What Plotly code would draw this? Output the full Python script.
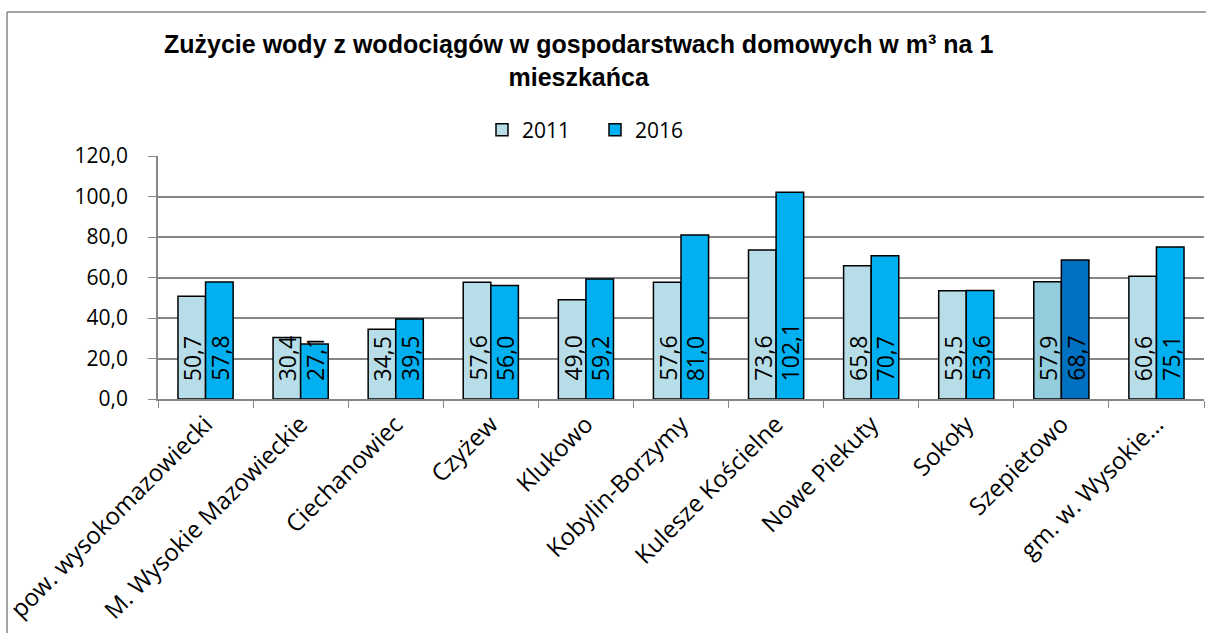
import plotly.graph_objects as go

categories = [
    "pow. wysokomazowiecki", "M. Wysokie Mazowieckie", "Ciechanowiec", "Czyżew",
    "Klukowo", "Kobylin-Borzymy", "Kulesze Kościelne", "Nowe Piekuty",
    "Sokoły", "Szepietowo", "gm. w. Wysokie…",
]
values_2011 = [50.7, 30.4, 34.5, 57.6, 49.0, 57.6, 73.6, 65.8, 53.5, 57.9, 60.6]
values_2016 = [57.8, 27.1, 39.5, 56.0, 59.2, 81.0, 102.1, 70.7, 53.6, 68.7, 75.1]
y_ticks = [0, 20, 40, 60, 80, 100, 120]

# per-bar colours; Szepietowo is highlighted with darker shades
light, light_hl = "#B7DEE8", "#93CDDD"
blue, blue_hl = "#00B0F0", "#0070C0"
colors_2011 = [light_hl if c == "Szepietowo" else light for c in categories]
colors_2016 = [blue_hl if c == "Szepietowo" else blue for c in categories]

FONT = "Open Sans"
BARGAP = 0.42

L, R, T, B = 158, 2, 156, 234
W, H = 1206, 633
pw, ph = W - L - R, H - T - B

def px(x):
    return (x - L) / pw

def py(y):
    return (H - B - y) / ph

def fmt(v):
    return f"{v:.1f}".replace(".", ",")

fig = go.Figure()
series = [("2011", values_2011, colors_2011), ("2016", values_2016, colors_2016)]
for name, vals, cols in series:
    fig.add_trace(go.Bar(
        name=name, x=categories, y=vals,
        marker=dict(color=cols, line=dict(color="black", width=1.5)),
        hovertext=[fmt(v) for v in vals], hoverinfo="x+text",
    ))

# value labels: rotated, sitting near the base of each bar
slot = pw / len(categories)
half_bar = slot * (1 - BARGAP) / 4
labels = []
for i, (name, vals, _) in enumerate(series):
    shift = -half_bar if i == 0 else half_bar
    for c, v in zip(categories, vals):
        labels.append(dict(
            x=c, y=0, xref="x", yref="y", text=fmt(v), textangle=-90,
            xshift=shift, yshift=16, xanchor="center", yanchor="bottom",
            showarrow=False, font=dict(family=FONT, size=23, color="black"),
        ))

labels.append(dict(
    text="<b>Zużycie wody z wodociągów w gospodarstwach domowych w m³ na 1<br>mieszkańca</b>",
    xref="paper", yref="paper", x=px(578), y=py(60), xanchor="center", yanchor="middle",
    showarrow=False, align="center",
    font=dict(family="Liberation Sans", size=25, color="black"),
))

fig.update_layout(
    width=W, height=H,
    margin=dict(l=L, r=R, t=T, b=B),
    paper_bgcolor="white", plot_bgcolor="white",
    separators=", ",
    barmode="group", bargap=BARGAP, bargroupgap=0,
    showlegend=True,
    legend=dict(orientation="h", x=px(482), xanchor="left", y=py(130), yanchor="middle",
                font=dict(family=FONT, size=21, color="black"), traceorder="normal",
                itemwidth=30, entrywidth=68),
    font=dict(family=FONT, color="black"),
    xaxis=dict(
        tickangle=-45, tickfont=dict(family=FONT, size=24, color="black"),
        showline=True, linecolor="#868686", linewidth=1.5,
        ticks="outside", tickson="boundaries", ticklen=7, tickcolor="#868686",
        showgrid=False,
    ),
    yaxis=dict(
        range=[0, 120], tickvals=y_ticks, tickformat=".1f",
        tickfont=dict(family=FONT, size=21, color="black"),
        showgrid=True, gridcolor="#868686", gridwidth=1.5,
        showline=True, linecolor="#868686", linewidth=1.5,
        ticks="outside", ticklen=8, tickcolor="#868686",
        ticklabelstandoff=16,
        zeroline=False,
    ),
    annotations=labels,
    shapes=[
        dict(type="line", xref="paper", yref="paper", x0=px(7), x1=px(7), y0=py(12), y1=py(640),
             line=dict(color="#868686", width=1.5)),
        dict(type="line", xref="paper", yref="paper", x0=px(7), x1=px(1210), y0=py(12), y1=py(12),
             line=dict(color="#868686", width=1.5)),
    ],
)

fig.write_html("out.html")
